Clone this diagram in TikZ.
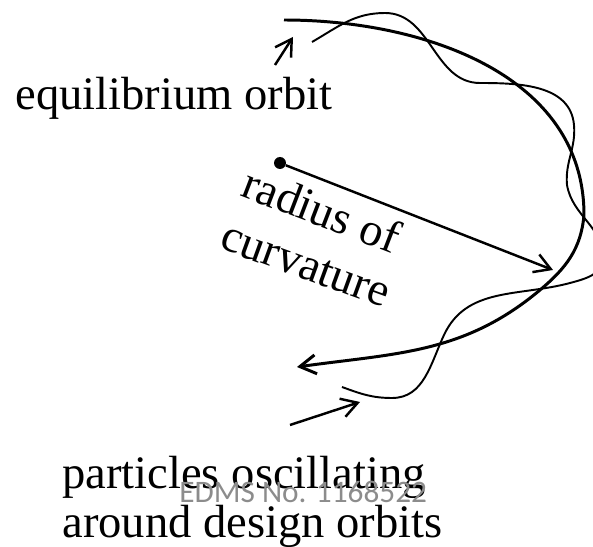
\documentclass[tikz,border=0pt]{standalone}
\usepackage{fontspec}
\setmainfont{Liberation Serif}
\newfontfamily\edmsfont{Carlito}
\usetikzlibrary{arrows.meta}
\begin{document}
\begin{tikzpicture}[>={Straight Barb[length=3.2mm,width=3.8mm]},x=0.02cm,y=0.02cm,
	  lbl/.style={inner sep=0pt,font=\fontsize{26.5}{30}\selectfont},
	  edms/.style={inner sep=0pt,text=black!45,font=\edmsfont\fontsize{17.8}{20}\selectfont},
	  orbit/.style={line width=1.7pt},
	  wave/.style={line width=1.1pt},
	  pointer/.style={line width=1.4pt}]
	  \useasboundingbox (0,0) rectangle (593,-547);
	  \clip (0,0) rectangle (593,-547);
	  % labels
	  \node[lbl,anchor=base west] (eqlabel) at (15,-110) {equilibrium orbit};
	  \node[lbl,anchor=base,rotate=-21] (radlabel) at (316,-225) {radius of};
	  \node[lbl,anchor=base,rotate=-20] (curvlabel) at (301,-278) {curvature};
	  \node[lbl,anchor=base west] (partlabel) at (62,-489) {particles oscillating};
	  \node[lbl,anchor=base west] (aroundlabel) at (62,-538) {around design orbits};
	  \node[edms,anchor=base west] (edmslabel) at (179,-503) {EDMS No. 1168522};
	  % centre and radius
	  \node[circle,fill,inner sep=0pt,minimum size=2.4mm] (centre) at (280,-163) {};
	  \coordinate (rtip) at (553,-270);
	  \draw[pointer,->] (centre) -- (rtip);
	  % equilibrium orbit
	  \draw[orbit,->] (284,-20) to[out=0,in=90] (584,-215) to[out=-95,in=40] (540,-290)
	    to[out=220,in=8] (297,-367);
	  % oscillating particle
	  \draw[wave] (312,-42) to[out=30,in=180] (385,-13) to[out=0,in=180] (480,-83)
	    to[out=0,in=95] (574,-125) to[out=-85,in=95] (567,-185) to[out=-80,in=90] (603,-258)
	    to[out=-90,in=15] (570,-283) to[out=195,in=65] (444,-335) to[out=245,in=0] (392,-398)
	    to[out=180,in=-20] (342,-387);
	  % small pointers
	  \coordinate (eqfrom) at (275,-65);
	  \coordinate (eqto) at (293,-37);
	  \draw[pointer,->] (eqfrom) -- (eqto);
	  \coordinate (partfrom) at (290,-425);
	  \coordinate (partto) at (360,-402);
	  \draw[pointer,->] (partfrom) -- (partto);
\end{tikzpicture}
\end{document}
